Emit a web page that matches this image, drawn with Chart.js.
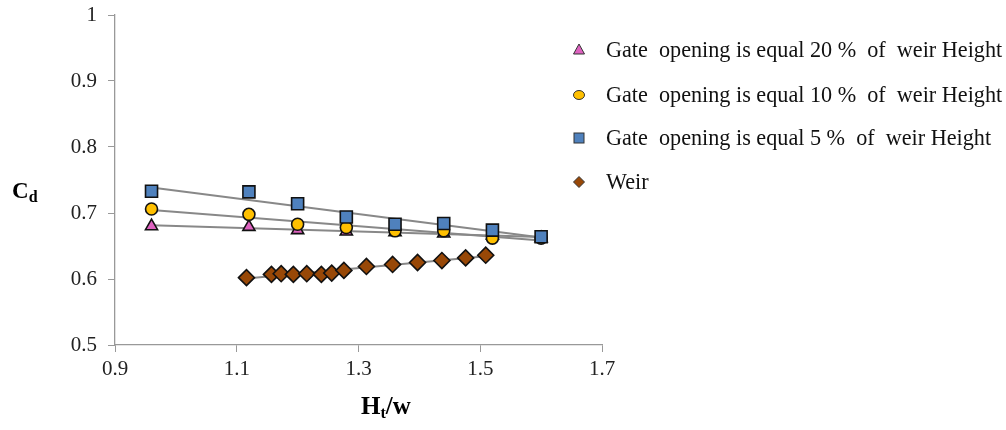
<!DOCTYPE html>
<html>
<head>
<meta charset="utf-8">
<script src="https://cdn.jsdelivr.net/npm/chart.js@4.4.1/dist/chart.umd.min.js"></script>
<style>
  body { margin: 0; background: #fff; }
  #wrap { position: relative; width: 1006px; height: 430px; font-family: "Liberation Serif", "Times New Roman", serif; }
  #chart { position: absolute; left: 0; top: 0; }
  .ytitle { position: absolute; left: 12px; top: 178px; font-weight: bold; font-size: 23px; }
  .xtitle { position: absolute; left: 361px; top: 392px; font-weight: bold; font-size: 25px; }
  .ytitle sub, .xtitle sub { font-size: 16px; vertical-align: -4px; }
  #legend { position: absolute; left: 570px; top: 23px; font-size: 22.2px; color: #111; }
  .item { position: absolute; left: 0; white-space: pre; height: 28px; line-height: 28px; }
  .item svg { position: absolute; left: 2px; top: 7px; }
  .item span { position: absolute; left: 36px; }
</style>
</head>
<body>
<div id="wrap">
  <canvas id="chart" width="1006" height="430"></canvas>
  <div class="ytitle">C<sub>d</sub></div>
  <div class="xtitle">H<sub>t</sub>/w</div>
  <div id="legend"></div>
</div>
<script>
// values
const gateX = [0.96, 1.12, 1.2, 1.28, 1.36, 1.44, 1.52, 1.6];
const gate20 = [0.680, 0.679, 0.674, 0.672, 0.671, 0.669, 0.666, 0.662];
const gate10 = [0.706, 0.698, 0.683, 0.678, 0.673, 0.673, 0.662, 0.662];
const gate5 = [0.733, 0.732, 0.714, 0.694, 0.683, 0.684, 0.674, 0.664];

const weirX = [1.116, 1.157, 1.173, 1.193, 1.215, 1.239, 1.256, 1.276, 1.313, 1.356, 1.397, 1.437, 1.476, 1.509];
const weirY = [0.602, 0.607, 0.608, 0.607, 0.608, 0.607, 0.609, 0.613, 0.619, 0.622, 0.625, 0.628, 0.632, 0.636];

const xTicks = [0.9, 1.1, 1.3, 1.5, 1.7];
const yTicks = [0.5, 0.6, 0.7, 0.8, 0.9, 1];

const seriesNames = [
  "Gate  opening is equal 20 %  of  weir Height",
  "Gate  opening is equal 10 %  of  weir Height",
  "Gate  opening is equal 5 %  of  weir Height",
  "Weir"
];
const seriesColors = ["#de62c0", "#ffc000", "#4f81bd", "#984807"];
const seriesShapes = ["triangle", "circle", "rect", "rectRot"];
const seriesRadius = [7, 6, 8.5, 8];

function pts(xs, ys) {
  return xs.map((x, i) => ({ x: x, y: ys[i] }));
}

// linear trend line (least squares) over a series
function trend(xs, ys) {
  const n = xs.length;
  const mx = xs.reduce((a, b) => a + b, 0) / n;
  const my = ys.reduce((a, b) => a + b, 0) / n;
  let sxy = 0, sxx = 0;
  for (let i = 0; i < n; i++) {
    sxy += (xs[i] - mx) * (ys[i] - my);
    sxx += (xs[i] - mx) * (xs[i] - mx);
  }
  const b = sxy / sxx, a = my - b * mx;
  const x0 = xs[0], x1 = xs[n - 1];
  return [{ x: x0, y: a + b * x0 }, { x: x1, y: a + b * x1 }];
}

const allX = [gateX, gateX, gateX, weirX];
const allY = [gate20, gate10, gate5, weirY];

const datasets = [];
allY.forEach((ys, i) => {
  datasets.push({
    label: seriesNames[i],
    data: pts(allX[i], ys),
    showLine: false,
    pointStyle: seriesShapes[i],
    pointRadius: seriesRadius[i],
    pointBackgroundColor: seriesColors[i],
    pointBorderColor: "#111",
    pointBorderWidth: 1.6,
    order: 3 - i
  });
  datasets.push({
    label: "trend " + i,
    data: trend(allX[i], ys),
    showLine: true,
    borderColor: "#888",
    borderWidth: 2,
    pointRadius: 0,
    order: 10
  });
});

const tickFont = { family: "Liberation Serif", size: 21 };

// drop the extra room chart.js keeps for overflowing tick labels
function noOverflow(s) {
  s.paddingTop = 0; s.paddingBottom = 0; s.paddingLeft = 0; s.paddingRight = 0;
}

new Chart(document.getElementById("chart"), {
  type: "scatter",
  data: { datasets: datasets },
  options: {
    responsive: false,
    animation: false,
    layout: { padding: { left: 0, right: 404, top: 15, bottom: 0 } },
    plugins: { legend: { display: false }, tooltip: { enabled: false } },
    scales: {
      x: {
        type: "linear",
        min: 0.9, max: 1.7,
        afterBuildTicks: s => { s.ticks = xTicks.map(v => ({ value: v })); },
        afterFit: s => { s.height = 85; noOverflow(s); },
        border: { color: "#999", width: 1.3 },
        grid: { drawOnChartArea: false, color: "#999", tickLength: 7 },
        ticks: { color: "#222", font: tickFont, padding: 5, callback: v => v.toFixed(1) }
      },
      y: {
        type: "linear",
        min: 0.5, max: 1,
        afterBuildTicks: s => { s.ticks = yTicks.map(v => ({ value: v })); },
        afterFit: s => { s.width = 115; noOverflow(s); },
        border: { color: "#999", width: 1.3 },
        grid: { drawOnChartArea: false, color: "#999", tickLength: 7 },
        ticks: { color: "#222", font: tickFont, padding: 11, callback: v => (v === 1 ? "1" : v.toFixed(1)) }
      }
    }
  }
});

// legend built from the same series info
const legendRows = [13, 58, 101, 145];
const legend = document.getElementById("legend");
const shapeSvg = {
  triangle: c => '<polygon points="7,1 12.5,11 1.5,11" fill="' + c + '" stroke="#333" stroke-width="1"/>',
  circle: c => '<ellipse cx="7" cy="7" rx="5.5" ry="4.5" fill="' + c + '" stroke="#333" stroke-width="1"/>',
  rect: c => '<rect x="2" y="2" width="10" height="10" fill="' + c + '" stroke="#333" stroke-width="1"/>',
  rectRot: c => '<polygon points="7,1.5 12.5,7 7,12.5 1.5,7" fill="' + c + '" stroke="#333" stroke-width="1"/>'
};
seriesNames.forEach((name, i) => {
  const div = document.createElement("div");
  div.className = "item";
  div.style.top = legendRows[i] + "px";
  div.innerHTML = '<svg width="14" height="14">' + shapeSvg[seriesShapes[i]](seriesColors[i]) + '</svg>';
  const span = document.createElement("span");
  span.textContent = name;
  div.appendChild(span);
  legend.appendChild(div);
});
</script>
</body>
</html>
